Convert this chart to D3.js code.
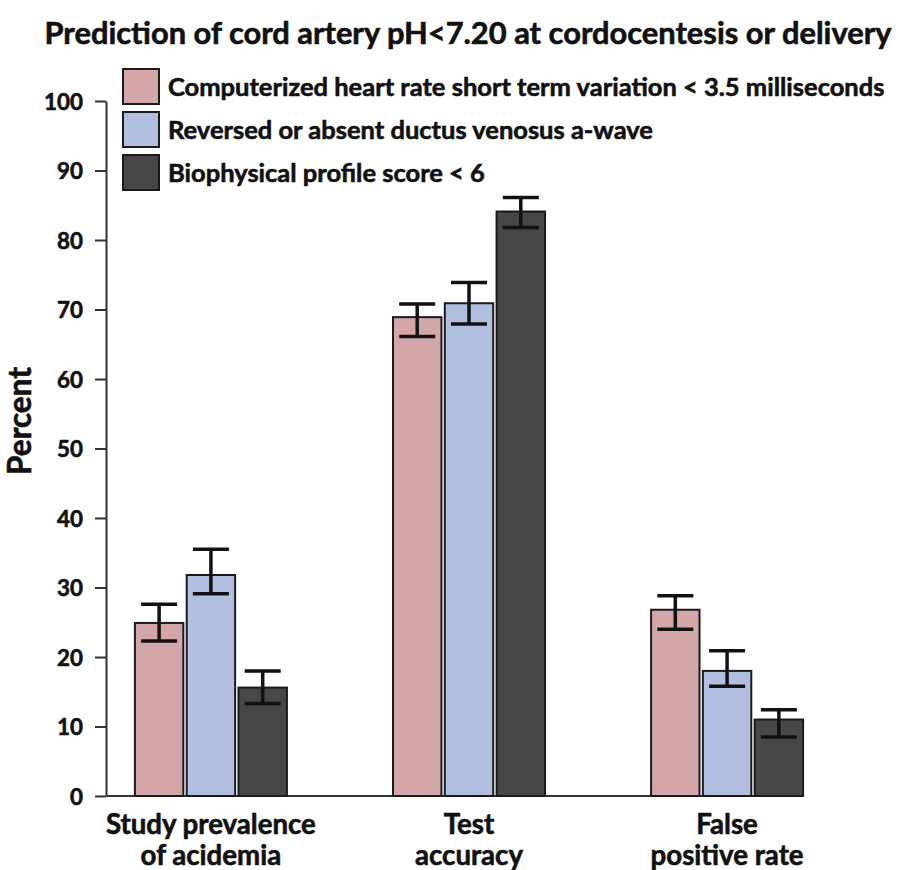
<!DOCTYPE html>
<html>
<head>
<meta charset="utf-8">
<script src="https://cdnjs.cloudflare.com/ajax/libs/d3/7.8.5/d3.min.js"></script>
<style>
  body { margin: 0; background: #fff; }
  text { font-family: Lato, "Open Sans", sans-serif; font-weight: 700; fill: #111; stroke: #111; stroke-width: 0.6px; }
</style>
</head>
<body>
<div id="chart-area"></div>
<script>
// chart text
var title = "Prediction of cord artery pH<7.20 at cordocentesis or delivery";
var categoryLines = [["Study prevalence", "of acidemia"], ["Test", "accuracy"], ["False", "positive rate"]];
var seriesNames = [
    "Computerized heart rate short term variation < 3.5 milliseconds",
    "Reversed or absent ductus venosus a-wave",
    "Biophysical profile score < 6"
];
var seriesColors = ["#d3a6a8", "#b1bedf", "#474747"];
var yTicks = [0, 10, 20, 30, 40, 50, 60, 70, 80, 90, 100];

// values (percent), with error bar ends
var stvValues = [24.9, 68.9, 26.8];
var stvLow    = [22.3, 66.1, 24.0];
var stvHigh   = [27.6, 70.8, 28.8];

var dvValues  = [31.8, 70.9, 18.0];
var dvLow     = [29.1, 67.9, 15.8];
var dvHigh    = [35.5, 73.9, 20.9];

var bppValues = [15.6, 84.1, 11.0];
var bppLow    = [13.3, 81.8, 8.5];
var bppHigh   = [18.0, 86.1, 12.4];

var width = 905, height = 870;
var axisX = 106;

var svg = d3.select("#chart-area")
    .append("svg")
        .attr("width", width)
        .attr("height", height);

// build rows for the bars
var values = [stvValues, dvValues, bppValues],
    lows = [stvLow, dvLow, bppLow],
    highs = [stvHigh, dvHigh, bppHigh];
var rows = [];
categoryLines.forEach(function(c, i) {
    seriesNames.forEach(function(s, j) {
        rows.push({ cat: i, series: j, value: values[j][i], low: lows[j][i], high: highs[j][i] });
    });
});

var y = d3.scaleLinear().domain([0, 100]).range([796, 101]);

var x0 = d3.scaleBand()
    .domain(d3.range(categoryLines.length))
    .range([axisX, 832])
    .paddingInner(0.411)
    .paddingOuter(0.112);

var x1 = d3.scaleBand()
    .domain(d3.range(seriesNames.length))
    .range([0, x0.bandwidth()])
    .paddingInner(0.065);

// shrink or grow a text so it spans a given width
function fitText(sel, target) {
    sel.style("font-size", "20px");
    var w = sel.node().getComputedTextLength();
    var size = 20 * target / w;
    sel.style("font-size", size + "px");
    return size;
}

// title
var t = svg.append("text")
    .attr("x", 468)
    .attr("y", 44)
    .attr("text-anchor", "middle")
    .text(title);
fitText(t, 847);

// y axis
var yAxis = svg.append("g")
    .attr("transform", "translate(" + axisX + ",0)")
    .call(d3.axisLeft(y).tickValues(yTicks).tickSize(11).tickSizeOuter(0).tickPadding(12));
yAxis.select(".domain").attr("stroke", "#333").attr("stroke-width", 2);
yAxis.selectAll(".tick line").attr("stroke", "#333").attr("stroke-width", 2);
var tickSize = fitText(yAxis.select(".tick:last-of-type text"), 39);
yAxis.selectAll(".tick text")
    .style("font-size", tickSize + "px")
    .attr("fill", "#111")
    .attr("dy", "0.36em");

// y label
var yl = svg.append("text")
    .attr("transform", "translate(31,421) rotate(-90)")
    .attr("text-anchor", "middle")
    .text("Percent");
fitText(yl, 108);

// x axis line
svg.append("line")
    .attr("x1", axisX)
    .attr("x2", x0(categoryLines.length - 1) + x0.bandwidth())
    .attr("y1", y(0))
    .attr("y2", y(0))
    .attr("stroke", "#333")
    .attr("stroke-width", 2);

// bars
var groups = svg.selectAll("g.bar")
    .data(rows)
    .enter()
    .append("g")
        .attr("class", "bar")
        .attr("transform", function(d) { return "translate(" + (x0(d.cat) + x1(d.series)) + ",0)"; });

groups.append("rect")
    .attr("x", 0)
    .attr("y", function(d) { return y(d.value); })
    .attr("width", x1.bandwidth())
    .attr("height", function(d) { return y(0) - y(d.value); })
    .attr("fill", function(d) { return seriesColors[d.series]; })
    .attr("stroke", "#1a1a1a")
    .attr("stroke-width", 2);

// error bars
var cap = 36, mid = x1.bandwidth() / 2;
groups.append("line")
    .attr("x1", mid).attr("x2", mid)
    .attr("y1", function(d) { return y(d.low); })
    .attr("y2", function(d) { return y(d.high); })
    .attr("stroke", "#111").attr("stroke-width", 3.5);
groups.append("line")
    .attr("x1", mid - cap / 2).attr("x2", mid + cap / 2)
    .attr("y1", function(d) { return y(d.high); })
    .attr("y2", function(d) { return y(d.high); })
    .attr("stroke", "#111").attr("stroke-width", 3.5);
groups.append("line")
    .attr("x1", mid - cap / 2).attr("x2", mid + cap / 2)
    .attr("y1", function(d) { return y(d.low); })
    .attr("y2", function(d) { return y(d.low); })
    .attr("stroke", "#111").attr("stroke-width", 3.5);

// category labels
var catText = svg.selectAll("text.cat")
    .data(categoryLines)
    .enter()
    .append("text")
        .attr("class", "cat")
        .attr("text-anchor", "middle")
        .attr("x", function(d, i) { return x0(i) + x0.bandwidth() / 2; })
        .attr("y", 834);
catText.append("tspan").text(function(d) { return d[0]; });
catText.append("tspan")
    .attr("x", function(d, i) { return x0(i) + x0.bandwidth() / 2; })
    .attr("dy", 31)
    .text(function(d) { return d[1]; });
svg.append("text").attr("id", "probe").text(categoryLines[0][0]);
var catSize = fitText(svg.select("#probe"), 210);
svg.select("#probe").remove();
catText.style("font-size", catSize + "px");

// legend
var legend = svg.selectAll("g.legend")
    .data(seriesNames)
    .enter()
    .append("g")
        .attr("class", "legend")
        .attr("transform", function(d, i) { return "translate(123," + (69 + i * 43) + ")"; });
legend.append("rect")
    .attr("width", 36)
    .attr("height", 35)
    .attr("fill", function(d, i) { return seriesColors[i]; })
    .attr("stroke", "#1a1a1a")
    .attr("stroke-width", 2);
var legText = legend.append("text")
    .attr("x", 45)
    .attr("y", 18)
    .attr("dy", "0.36em")
    .text(function(d) { return d; });
var legSize = fitText(d3.select(legText.nodes()[0]), 717);
legText.style("font-size", legSize + "px");
</script>
</body>
</html>
